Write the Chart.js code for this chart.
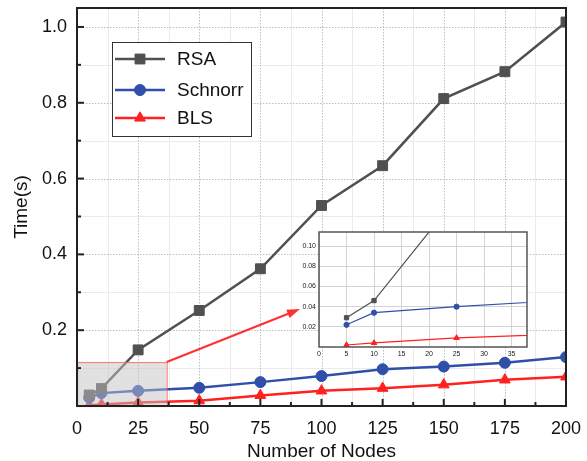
<!DOCTYPE html>
<html><head><meta charset="utf-8">
<script src="https://cdn.jsdelivr.net/npm/chart.js@4.4.1/dist/chart.umd.min.js"></script>
<style>
html,body{margin:0;padding:0;background:#fff;}
#wrap{position:relative;width:587px;height:461px;overflow:hidden;}
#main{position:absolute;left:0;top:0;}
#inset{position:absolute;left:296px;top:226px;}
</style></head><body>
<div id="wrap"><canvas id="main" width="587" height="461"></canvas><canvas id="inset" width="236" height="136"></canvas></div>
<script>
// ---- data ----
const nodes   = [5, 10, 25, 50, 75, 100, 125, 150, 175, 200];
const rsa     = [0.029, 0.046, 0.148, 0.252, 0.362, 0.529, 0.634, 0.811, 0.882, 1.013];
const schnorr = [0.022, 0.034, 0.040, 0.048, 0.063, 0.079, 0.097, 0.104, 0.114, 0.129];
const bls     = [0.002, 0.004, 0.009, 0.014, 0.028, 0.040, 0.047, 0.056, 0.069, 0.077];
const seriesNames = ['RSA', 'Schnorr', 'BLS'];
const xTicks = [0, 25, 50, 75, 100, 125, 150, 175, 200];
const yTicks = [0.2, 0.4, 0.6, 0.8, 1.0];
const insetXTicks = [0, 5, 10, 15, 20, 25, 30, 35];
const insetYTicks = [0.02, 0.04, 0.06, 0.08, 0.10];

const FONT = "'Liberation Sans', Arial, sans-serif";
const colors = ['#505050', '#2f4fab', '#ff2020'];
const styles = ['rect', 'circle', 'triangle'];
const pts = arr => nodes.map((n, i) => ({x: n, y: arr[i]}));
const allSeries = [rsa, schnorr, bls];

function makeDatasets(big) {
  const radii = big ? [7, 5.5, 6.2] : [3, 2.6, 3.2];
  return allSeries.map((arr, i) => ({
    label: seriesNames[i], data: pts(arr),
    borderColor: colors[i], backgroundColor: colors[i],
    pointBackgroundColor: colors[i], pointBorderColor: colors[i],
    pointStyle: styles[i], pointRadius: radii[i], pointBorderWidth: 1,
    borderWidth: big ? 2.5 : 1.2, tension: 0, fill: false
  }));
}
const zeroPad = s => { s.paddingTop = 0; s.paddingBottom = 0; s.paddingLeft = 0; s.paddingRight = 0; };

const mainPlugin = {
  id: 'mainDeco',
  beforeDatasetsDraw(chart) {
    const {ctx, chartArea: a, scales: {x, y}} = chart;
    ctx.save();
    ctx.strokeStyle = '#ebebeb'; ctx.lineWidth = 1; ctx.setLineDash([]);
    for (let v = 12.5; v < 200; v += 25) { const p = Math.round(x.getPixelForValue(v)) + 0.5; ctx.beginPath(); ctx.moveTo(p, a.top); ctx.lineTo(p, a.bottom); ctx.stroke(); }
    for (let v = 0.1; v < 1.05; v += 0.2) { const p = Math.round(y.getPixelForValue(v)) + 0.5; ctx.beginPath(); ctx.moveTo(a.left, p); ctx.lineTo(a.right, p); ctx.stroke(); }
    ctx.strokeStyle = '#bdbdbd'; ctx.setLineDash([1.5, 1.5]);
    xTicks.forEach(v => { if (v <= 0 || v >= 200) return; const p = Math.round(x.getPixelForValue(v)) + 0.5; ctx.beginPath(); ctx.moveTo(p, a.top); ctx.lineTo(p, a.bottom); ctx.stroke(); });
    yTicks.forEach(v => { const p = Math.round(y.getPixelForValue(v)) + 0.5; ctx.beginPath(); ctx.moveTo(a.left, p); ctx.lineTo(a.right, p); ctx.stroke(); });
    ctx.restore();
  },
  afterDatasetsDraw(chart) {
    const {ctx, chartArea: a, scales: {x, y}} = chart;
    ctx.save();
    const rx0 = x.getPixelForValue(0), rx1 = x.getPixelForValue(36.7);
    const ry0 = y.getPixelForValue(0.116), ry1 = y.getPixelForValue(0);
    ctx.fillStyle = 'rgba(195,195,195,0.5)';
    ctx.fillRect(rx0, ry0, rx1 - rx0, ry1 - ry0);
    ctx.strokeStyle = 'rgba(255,90,90,0.7)'; ctx.lineWidth = 1.2;
    ctx.strokeRect(rx0 + 0.5, ry0 + 0.5, rx1 - rx0, ry1 - ry0);
    ctx.strokeStyle = '#222'; ctx.lineWidth = 2;
    ctx.strokeRect(a.left, a.top, a.right - a.left, a.bottom - a.top);
    for (let v = 0; v <= 200; v += 12.5) {
      const p = x.getPixelForValue(v); const len = (v % 25 === 0) ? 7 : 4;
      ctx.beginPath(); ctx.moveTo(p, a.bottom); ctx.lineTo(p, a.bottom - len); ctx.stroke();
    }
    for (let k = 1; k <= 10; k++) {
      const v = k / 10; const p = y.getPixelForValue(v); const len = (k % 2 === 0) ? 7 : 4;
      ctx.beginPath(); ctx.moveTo(a.left, p); ctx.lineTo(a.left + len, p); ctx.stroke();
    }
    const ax0 = rx1, ay0 = ry0, ax1 = 300, ay1 = 309;
    const ang = Math.atan2(ay1 - ay0, ax1 - ax0);
    ctx.strokeStyle = '#ff3030'; ctx.fillStyle = '#ff3030'; ctx.lineWidth = 2;
    ctx.beginPath(); ctx.moveTo(ax0, ay0); ctx.lineTo(ax1 - 10 * Math.cos(ang), ay1 - 10 * Math.sin(ang)); ctx.stroke();
    ctx.beginPath(); ctx.moveTo(ax1, ay1);
    ctx.lineTo(ax1 - 13 * Math.cos(ang) + 4.5 * Math.sin(ang), ay1 - 13 * Math.sin(ang) - 4.5 * Math.cos(ang));
    ctx.lineTo(ax1 - 13 * Math.cos(ang) - 4.5 * Math.sin(ang), ay1 - 13 * Math.sin(ang) + 4.5 * Math.cos(ang));
    ctx.closePath(); ctx.fill();
    ctx.fillStyle = '#fff'; ctx.fillRect(112, 42, 140, 95);
    ctx.strokeStyle = '#333'; ctx.lineWidth = 1; ctx.strokeRect(112.5, 42.5, 139, 94);
    const rows = [59, 90, 118];
    chart.data.datasets.forEach((ds, i) => {
      const yy = rows[i];
      ctx.strokeStyle = ds.borderColor; ctx.lineWidth = 2.5;
      ctx.beginPath(); ctx.moveTo(115, yy); ctx.lineTo(165, yy); ctx.stroke();
      ctx.fillStyle = ds.borderColor; ctx.strokeStyle = ds.borderColor; ctx.lineWidth = 1;
      Chart.helpers.drawPoint(ctx, {pointStyle: ds.pointStyle, radius: ds.pointRadius, borderWidth: 1, rotation: 0}, 140, yy);
      ctx.fillStyle = '#111'; ctx.font = '19px ' + FONT; ctx.textBaseline = 'middle'; ctx.textAlign = 'left';
      ctx.fillText(ds.label, 177, yy + 1);
    });
    ctx.restore();
  }
};

new Chart(document.getElementById('main'), {
  type: 'line',
  data: {datasets: makeDatasets(true)},
  options: {
    responsive: false, animation: false, devicePixelRatio: 1,
    layout: {padding: {left: 0, right: 21, top: 8, bottom: 0}},
    plugins: {legend: {display: false}, tooltip: {enabled: false}},
    scales: {
      x: {
        type: 'linear', min: 0, max: 200,
        afterBuildTicks: s => { s.ticks = xTicks.map(v => ({value: v})); },
        afterFit: s => { s.height = 55; zeroPad(s); },
        grid: {display: false, drawTicks: false}, border: {display: false},
        ticks: {font: {family: FONT, size: 18}, color: '#111', padding: 12, maxRotation: 0, autoSkip: false, callback: v => String(v)},
        title: {display: true, text: 'Number of Nodes', font: {family: FONT, size: 19, lineHeight: 1}, color: '#111', padding: {top: 0, bottom: 0}}
      },
      y: {
        type: 'linear', min: 0, max: 1.05,
        afterBuildTicks: s => { s.ticks = yTicks.map(v => ({value: v})); },
        afterFit: s => { s.width = 77; zeroPad(s); },
        grid: {display: false, drawTicks: false}, border: {display: false},
        ticks: {font: {family: FONT, size: 18}, color: '#111', padding: 10, autoSkip: false, callback: v => v.toFixed(1)},
        title: {display: true, text: 'Time(s)', font: {family: FONT, size: 19}, color: '#111', padding: {top: 10, bottom: 0}}
      }
    }
  },
  plugins: [mainPlugin]
});

const insetPlugin = {
  id: 'insetDeco',
  beforeDraw(chart) {
    const {ctx, chartArea: a} = chart;
    ctx.save(); ctx.fillStyle = '#fff'; ctx.fillRect(a.left, a.top, a.right - a.left, a.bottom - a.top); ctx.restore();
  },
  afterDatasetsDraw(chart) {
    const {ctx, chartArea: a} = chart;
    ctx.save(); ctx.strokeStyle = '#555'; ctx.lineWidth = 1.5;
    ctx.strokeRect(a.left, a.top, a.right - a.left, a.bottom - a.top); ctx.restore();
  }
};

new Chart(document.getElementById('inset'), {
  type: 'line',
  data: {datasets: makeDatasets(false)},
  options: {
    responsive: false, animation: false, devicePixelRatio: 1,
    layout: {padding: {left: 0, right: 5, top: 6, bottom: 0}},
    plugins: {legend: {display: false}, tooltip: {enabled: false}},
    scales: {
      x: {
        type: 'linear', min: 0, max: 37.8,
        afterBuildTicks: s => { s.ticks = insetXTicks.map(v => ({value: v})); },
        afterFit: s => { s.height = 15; zeroPad(s); },
        grid: {display: true, color: '#c9c9c9', lineWidth: 0.8, drawTicks: false},
        border: {display: false},
        ticks: {font: {family: FONT, size: 7}, color: '#222', padding: 3, maxRotation: 0, autoSkip: false, callback: v => String(v)}
      },
      y: {
        type: 'linear', min: 0, max: 0.114,
        afterBuildTicks: s => { s.ticks = insetYTicks.map(v => ({value: v})); },
        afterFit: s => { s.width = 23; zeroPad(s); },
        grid: {display: true, color: '#c9c9c9', lineWidth: 0.8, drawTicks: false},
        border: {display: false},
        ticks: {font: {family: FONT, size: 7}, color: '#222', padding: 3, autoSkip: false, callback: v => v.toFixed(2)}
      }
    }
  },
  plugins: [insetPlugin]
});
</script>
</body></html>
